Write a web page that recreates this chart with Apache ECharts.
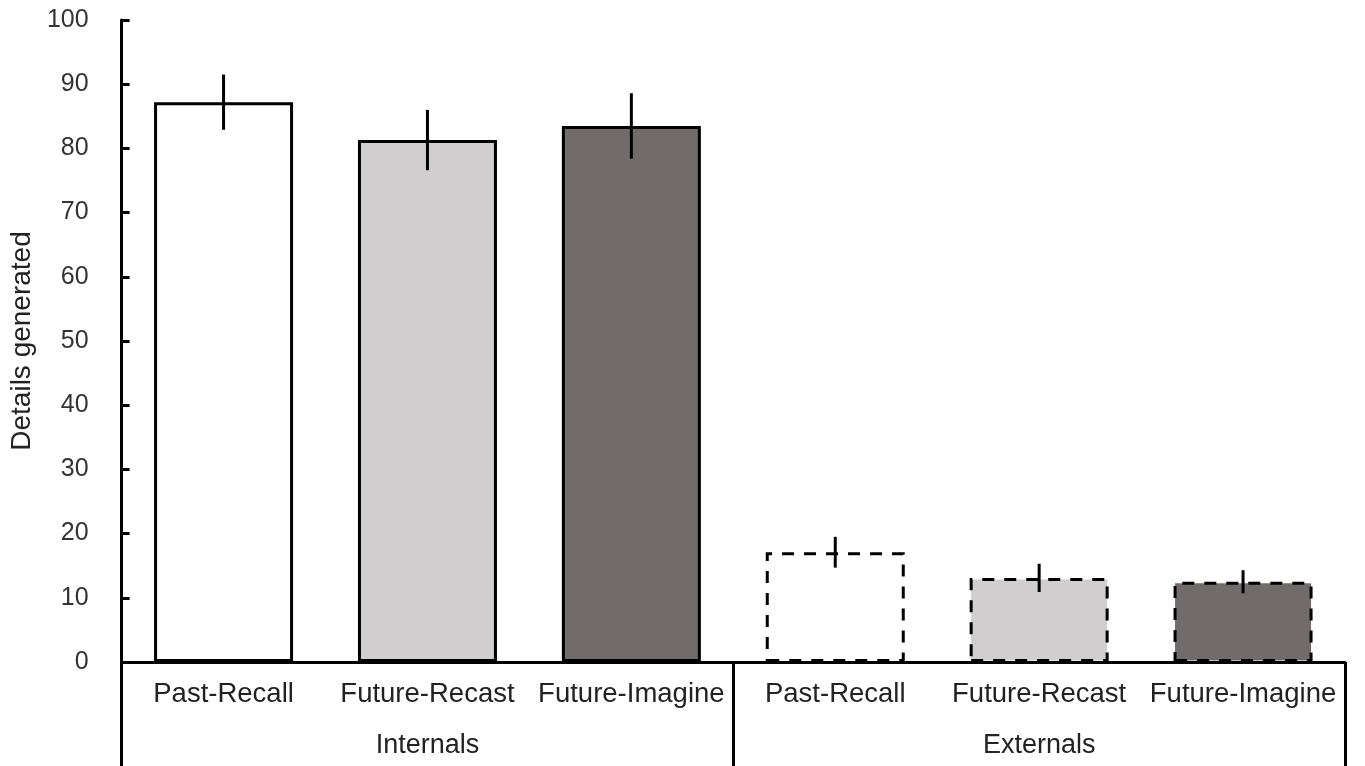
<!DOCTYPE html>
<html>
<head>
<meta charset="utf-8">
<script src="https://cdn.jsdelivr.net/npm/echarts@6/dist/echarts.min.js"></script>
<style>
    html, body { margin: 0; padding: 0; background: #fff; }
    #container { width: 1365px; height: 766px; }
</style>
</head>
<body>
<div id="container"></div>
<script>
    // values
    var conditions = ['Past-Recall', 'Future-Recast', 'Future-Imagine', 'Past-Recall', 'Future-Recast', 'Future-Imagine'];
    var groups = ['Internals', 'Externals'];
    var means = [87.2, 81.3, 83.5, 17.1, 13.1, 12.5];
    var errors = [4.3, 4.7, 5.1, 2.4, 2.2, 1.8];
    var yTicks = [0, 10, 20, 30, 40, 50, 60, 70, 80, 90, 100];

    var fills = ['#ffffff', '#d0cecf', '#716c6b'];
    var font = '"Liberation Sans", Arial, sans-serif';

    var barData = means.map(function (v, i) {
        return {
            value: v,
            itemStyle: {
                color: fills[i % 3],
                borderColor: '#000',
                borderWidth: 3,
                borderType: i < 3 ? 'solid' : [12, 10]
            }
        };
    });
    var errData = means.map(function (v, i) {
        return [i, v - errors[i], v + errors[i]];
    });

    var chart = echarts.init(document.getElementById('container'));
    chart.setOption({
        animation: false,
        grid: {left: 112, right: 20, top: 20, bottom: 104},
        xAxis: [{
            type: 'category',
            data: conditions,
            position: 'bottom',
            axisLine: {lineStyle: {color: '#000', width: 3}},
            axisTick: {show: false},
            axisLabel: {color: '#222', fontSize: 27.5, fontFamily: font, margin: 18, interval: 0}
        }, {
            type: 'category',
            data: groups,
            position: 'bottom',
            axisLine: {show: false},
            axisTick: {show: true, length: 110, interval: 0, lineStyle: {color: '#000', width: 3}},
            axisLabel: {color: '#222', fontSize: 27, fontFamily: font, margin: 70}
        }],
        yAxis: {
            type: 'value',
            min: yTicks[0],
            max: yTicks[yTicks.length - 1],
            interval: 10,
            name: 'Details generated',
            nameLocation: 'middle',
            nameGap: 80,
            nameTextStyle: {color: '#222', fontSize: 28, fontFamily: font},
            axisLine: {show: true, lineStyle: {color: '#000', width: 3}},
            axisTick: {show: true, inside: true, length: 8, lineStyle: {color: '#000', width: 3}},
            axisLabel: {color: '#333', fontSize: 25, fontFamily: font, margin: 33},
            splitLine: {show: false}
        },
        series: [{
            type: 'bar',
            xAxisIndex: 0,
            barWidth: 139,
            data: barData
        }, {
            type: 'custom',
            xAxisIndex: 0,
            data: errData,
            z: 10,
            renderItem: function (params, api) {
                var top = api.coord([api.value(0), api.value(2)]);
                var bot = api.coord([api.value(0), api.value(1)]);
                return {
                    type: 'line',
                    shape: {x1: top[0], y1: top[1], x2: bot[0], y2: bot[1]},
                    style: {stroke: '#000', lineWidth: 3}
                };
            }
        }]
    });
</script>
</body>
</html>
